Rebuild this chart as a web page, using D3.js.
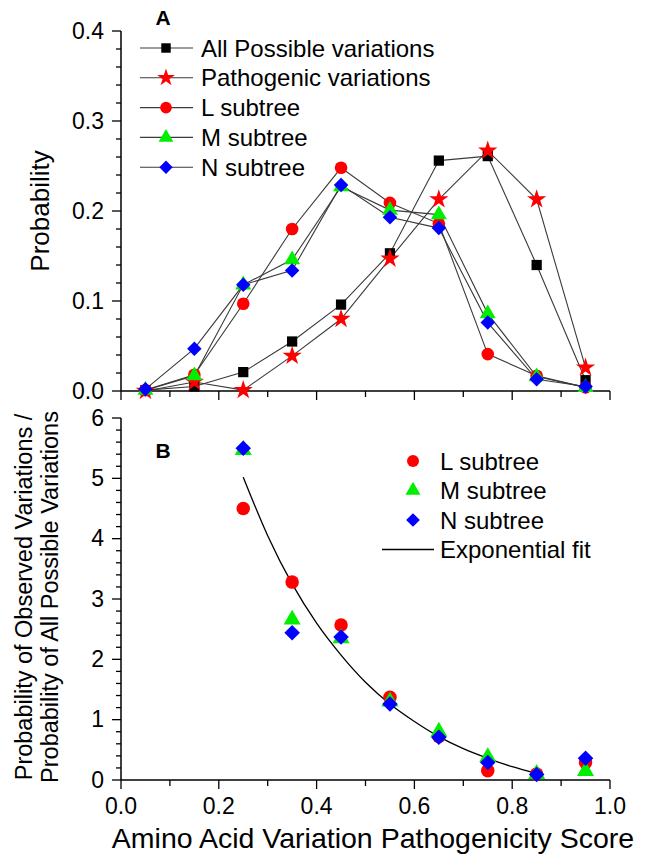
<!DOCTYPE html>
<html>
<head>
<meta charset="utf-8">
<script src="https://cdn.jsdelivr.net/npm/d3@7"></script>
<style>
  body { margin: 0; background: #fff; }
  svg text { font-family: "Liberation Sans", Arial, sans-serif; fill: #000; }
</style>
</head>
<body>
<div id="chart"></div>
<script>
// bin centres of the pathogenicity score
var scores = [0.05, 0.15, 0.25, 0.35, 0.45, 0.55, 0.65, 0.75, 0.85, 0.95];

// panel A : probability distributions
var allPossible = [0.001, 0.005, 0.021, 0.055, 0.096, 0.153, 0.256, 0.261, 0.140, 0.012];
var pathogenic  = [0.000, 0.010, 0.001, 0.039, 0.080, 0.147, 0.213, 0.267, 0.213, 0.026];
var lSubtree    = [0.001, 0.018, 0.097, 0.180, 0.248, 0.209, 0.186, 0.041, 0.017, 0.004];
var mSubtree    = [0.001, 0.017, 0.118, 0.146, 0.227, 0.201, 0.196, 0.086, 0.016, 0.004];
var nSubtree    = [0.002, 0.047, 0.118, 0.134, 0.229, 0.193, 0.181, 0.076, 0.013, 0.005];

// panel B : ratio observed / all possible (from 0.25 on)
var ratioScores = [0.25, 0.35, 0.45, 0.55, 0.65, 0.75, 0.85, 0.95];
var lRatio = [4.50, 3.28, 2.57, 1.37, 0.72, 0.155, 0.10, 0.29];
var mRatio = [5.47, 2.66, 2.35, 1.30, 0.80, 0.38, 0.10, 0.15];
var nRatio = [5.50, 2.44, 2.37, 1.26, 0.71, 0.29, 0.09, 0.36];

// exponential fit curve
var fitX = [0.25, 0.30, 0.35, 0.40, 0.45, 0.50, 0.55, 0.60, 0.65, 0.70, 0.75, 0.80, 0.85];
var fitY = [5.02, 4.05, 3.25, 2.60, 2.07, 1.62, 1.26, 0.97, 0.72, 0.52, 0.36, 0.22, 0.11];

var xTicks = [0, 0.2, 0.4, 0.6, 0.8, 1.0];
var aTicks = [0, 0.1, 0.2, 0.3, 0.4];
var bTicks = [0, 1, 2, 3, 4, 5, 6];

var W = 645, H = 854;
var svg = d3.select("#chart").append("svg")
    .attr("width", W)
    .attr("height", H);

var x = d3.scaleLinear().domain([0, 1]).range([121, 610]);
var yA = d3.scaleLinear().domain([0, 0.4]).range([391, 31]);
var yB = d3.scaleLinear().domain([0, 6]).range([780, 418]);

var fontTick = "23px";
var fontLeg = "24px";

// ---------- axes helpers
function drawX(yPos, labels) {
  var g = svg.append("g").attr("transform", "translate(0," + yPos + ")");
  g.append("line").attr("x1", x(0)).attr("x2", x(1))
    .attr("stroke", "#000").attr("stroke-width", 1.5);
  d3.range(0, 11).forEach(function(i) {
    var v = i / 10, major = i % 2 == 0;
    g.append("line").attr("x1", x(v)).attr("x2", x(v))
      .attr("y1", 0).attr("y2", major ? 9 : 6)
      .attr("stroke", "#000").attr("stroke-width", 1.3);
  });
  if (labels) {
    g.selectAll(".xl").data(xTicks).enter().append("text")
      .attr("x", function(d) { return x(d); })
      .attr("y", 26)
      .attr("dy", "0.35em")
      .attr("text-anchor", "middle")
      .style("font-size", fontTick)
      .text(function(d) { return d3.format(".1f")(d); });
  }
}

function drawY(y, ticks, minorStep, fmt) {
  var g = svg.append("g");
  var d = y.domain();
  g.append("line").attr("x1", x(0)).attr("x2", x(0))
    .attr("y1", y(d[0])).attr("y2", y(d[1]))
    .attr("stroke", "#000").attr("stroke-width", 1.5);
  var n = Math.round((d[1] - d[0]) / minorStep);
  d3.range(0, n + 1).forEach(function(i) {
    var v = d[0] + i * minorStep;
    var major = i % 5 == 0;
    g.append("line").attr("x1", x(0)).attr("x2", x(0) - (major ? 9 : 5))
      .attr("y1", y(v)).attr("y2", y(v))
      .attr("stroke", "#000").attr("stroke-width", 1.3);
  });
  g.selectAll(".yl").data(ticks).enter().append("text")
    .attr("x", x(0) - 17)
    .attr("y", function(v) { return y(v); })
    .attr("dy", "0.33em")
    .attr("text-anchor", "end")
    .style("font-size", fontTick)
    .text(fmt);
}

// ---------- markers
var markers = {
  square:  { type: d3.symbolSquare,   size: 105, color: "#000",    rot: 0 },
  star:    { type: d3.symbolStar,     size: 115, color: "#ff0000", rot: 0 },
  circle:  { type: d3.symbolCircle,   size: 125, color: "#ff0000", rot: 0 },
  triangle:{ type: d3.symbolTriangle, size: 110, color: "#00ee00", rot: 0 },
  diamond: { type: d3.symbolSquare,   size: 105, color: "#0000ff", rot: 45 }
};

function symbolPath(m, scale) {
  return d3.symbol().type(m.type).size(m.size * (scale || 1))();
}

// ---------- panel A
drawX(391, false);
drawY(yA, aTicks, 0.02, function(v) { return d3.format(".1f")(v); });

var seriesA = [
  { name: "All Possible variations", values: allPossible, m: markers.square },
  { name: "Pathogenic variations",   values: pathogenic,  m: markers.star },
  { name: "L subtree",               values: lSubtree,    m: markers.circle },
  { name: "M subtree",               values: mSubtree,    m: markers.triangle },
  { name: "N subtree",               values: nSubtree,    m: markers.diamond }
];

var lineA = d3.line()
  .x(function(d) { return x(d[0]); })
  .y(function(d) { return yA(d[1]); });

seriesA.forEach(function(s) {
  var pts = d3.zip(scores, s.values);
  svg.append("path").datum(pts)
    .attr("d", lineA)
    .attr("fill", "none")
    .attr("stroke", "#3a3a3a")
    .attr("stroke-width", 1.1);
});
seriesA.forEach(function(s) {
  var pts = d3.zip(scores, s.values);
  svg.append("g").selectAll("path").data(pts).enter().append("path")
    .attr("transform", function(d) {
      return "translate(" + x(d[0]) + "," + yA(d[1]) + ") rotate(" + s.m.rot + ")";
    })
    .attr("d", symbolPath(s.m))
    .attr("fill", s.m.color);
});

// legend A
var legA = svg.append("g").attr("transform", "translate(140,48)");
seriesA.forEach(function(s, i) {
  var row = legA.append("g").attr("transform", "translate(0," + (i * 29.8) + ")");
  row.append("line").attr("x1", 0).attr("x2", 53).attr("y1", 0).attr("y2", 0)
    .attr("stroke", "#3a3a3a").attr("stroke-width", 1.1);
  row.append("path")
    .attr("transform", "translate(26,0) rotate(" + s.m.rot + ")")
    .attr("d", symbolPath(s.m, 0.85))
    .attr("fill", s.m.color);
  row.append("text").attr("x", 61).attr("y", 0).attr("dy", "0.36em")
    .style("font-size", fontLeg)
    .text(s.name);
});

svg.append("text").attr("x", 163).attr("y", 18).attr("dy", "0.35em")
  .attr("text-anchor", "middle")
  .style("font-size", "21px").style("font-weight", "bold")
  .text("A");

svg.append("text")
  .attr("transform", "translate(40,211) rotate(-90)")
  .attr("dy", "0.35em")
  .attr("text-anchor", "middle")
  .style("font-size", "26px")
  .text("Probability");

// ---------- panel B
drawX(780, true);
drawY(yB, bTicks, 0.2, function(v) { return v; });

var fitLine = d3.line()
  .x(function(d) { return x(d[0]); })
  .y(function(d) { return yB(d[1]); })
  .curve(d3.curveMonotoneX);

svg.append("path").datum(d3.zip(fitX, fitY))
  .attr("d", fitLine)
  .attr("fill", "none")
  .attr("stroke", "#000")
  .attr("stroke-width", 1.3);

var seriesB = [
  { name: "L subtree", values: lRatio, m: markers.circle },
  { name: "M subtree", values: mRatio, m: markers.triangle },
  { name: "N subtree", values: nRatio, m: markers.diamond }
];

seriesB.forEach(function(s) {
  var pts = d3.zip(ratioScores, s.values);
  svg.append("g").selectAll("path").data(pts).enter().append("path")
    .attr("transform", function(d) {
      return "translate(" + x(d[0]) + "," + yB(d[1]) + ") rotate(" + s.m.rot + ")";
    })
    .attr("d", symbolPath(s.m, 1.15))
    .attr("fill", s.m.color);
});

// legend B
var legB = svg.append("g").attr("transform", "translate(413,461)");
seriesB.forEach(function(s, i) {
  var row = legB.append("g").attr("transform", "translate(0," + (i * 29.5) + ")");
  row.append("path")
    .attr("transform", "rotate(" + s.m.rot + ")")
    .attr("d", symbolPath(s.m, 0.9))
    .attr("fill", s.m.color);
  row.append("text").attr("x", 27).attr("y", 0).attr("dy", "0.36em")
    .style("font-size", fontLeg)
    .text(s.name);
});
var fitRow = legB.append("g").attr("transform", "translate(0," + (3 * 29.5) + ")");
fitRow.append("line").attr("x1", -31).attr("x2", 21).attr("y1", 0).attr("y2", 0)
  .attr("stroke", "#000").attr("stroke-width", 1.3);
fitRow.append("text").attr("x", 27).attr("y", 0).attr("dy", "0.36em")
  .style("font-size", fontLeg)
  .text("Exponential fit");

svg.append("text").attr("x", 163).attr("y", 451).attr("dy", "0.35em")
  .attr("text-anchor", "middle")
  .style("font-size", "21px").style("font-weight", "bold")
  .text("B");

var yTitle = svg.append("text")
  .attr("transform", "translate(37,597) rotate(-90)")
  .attr("text-anchor", "middle")
  .style("font-size", "23.5px");
yTitle.append("tspan").attr("x", 0).attr("y", -13).attr("dy", "0.35em")
  .text("Probability of Observed Variations /");
yTitle.append("tspan").attr("x", 0).attr("y", 13).attr("dy", "0.35em")
  .text("Probability of All Possible Variations");

svg.append("text")
  .attr("x", 373).attr("y", 838).attr("dy", "0.35em")
  .attr("text-anchor", "middle")
  .style("font-size", "28.5px")
  .text("Amino Acid Variation Pathogenicity Score");
</script>
</body>
</html>
